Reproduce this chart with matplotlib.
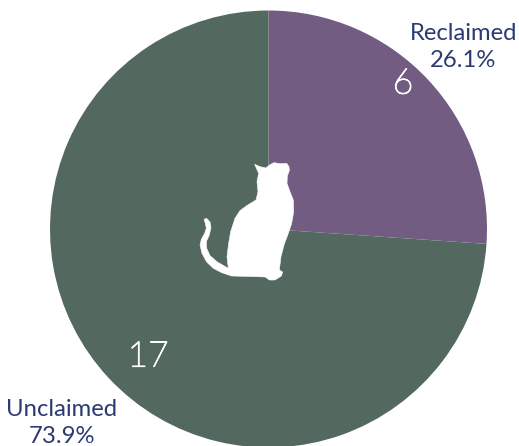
import numpy as np
import matplotlib
matplotlib.use("Agg")
import matplotlib.pyplot as plt
import matplotlib.patheffects as pe
from matplotlib.patches import Polygon

categories = ["Reclaimed", "Unclaimed"]
counts = [6, 17]
colors = ["#725C82", "#53695F"]
text_color = "#2B3A73"

# Cat icon outline, in pixels of the zoomed crop
cat_zoom = [(224,73),(240,80),(258,84),(270,74),(282,68),(300,71),(320,70),(327,80),(328,92),(322,108),(321,130),
            (330,155),(340,180),(341,215),(335,250),(325,280),(312,315),(303,350),(298,390),(308,396),(304,408),
            (285,420),(268,420),(256,411),(200,409),(155,408),(125,398),(100,385),(80,366),(66,340),(60,315),
            (64,298),(74,280),(79,265),(76,250),(72,238),(80,235),(90,246),(93,262),(88,285),(79,305),(80,325),
            (90,347),(112,366),(145,385),(141,350),(146,310),(152,275),(165,235),(180,212),(200,197),(228,180),
            (234,155),(231,125),(236,100)]

plt.rcParams['font.family'] = ['Lato', 'DejaVu Sans']
fig = plt.figure(figsize=(5.19, 4.46), dpi=100)
ax = fig.add_axes([0, 0, 1, 1])
ax.pie(counts, colors=colors, startangle=90, counterclock=False,
       center=(268.5, 217), radius=218.5, frame=True,
       wedgeprops=dict(linewidth=0))
ax.set_xlim(0, 519)
ax.set_ylim(0, 446)
ax.set_aspect('equal')
ax.axis('off')

total = sum(counts)
ax.text(463.5, 399, f"{categories[0]}\n{counts[0]/total*100:.1f}%", ha='center', va='center',
        color=text_color, fontsize=17.2, linespacing=1.3)
ax.text(61.5, 23, f"{categories[1]}\n{counts[1]/total*100:.1f}%", ha='center', va='center',
        color=text_color, fontsize=17.2, linespacing=1.3)
stroke = [pe.withStroke(linewidth=0.9, foreground='white')]
ax.text(403, 362.5, str(counts[0]), ha='center', va='center', color='white', fontsize=25.5, fontweight='light', path_effects=stroke)
ax.text(148, 89.5, str(counts[1]), ha='center', va='center', color='white', fontsize=25.5, fontweight='light', path_effects=stroke)

cat = np.array(cat_zoom, dtype=float)
cat_xy = np.column_stack([180 + cat[:, 0] / 3, 446 - (140 + cat[:, 1] / 3)])
ax.add_patch(Polygon(cat_xy, closed=True, facecolor='white', edgecolor='white', linewidth=0.4, joinstyle='round', zorder=5))

fig.savefig("out.png", dpi=100)
